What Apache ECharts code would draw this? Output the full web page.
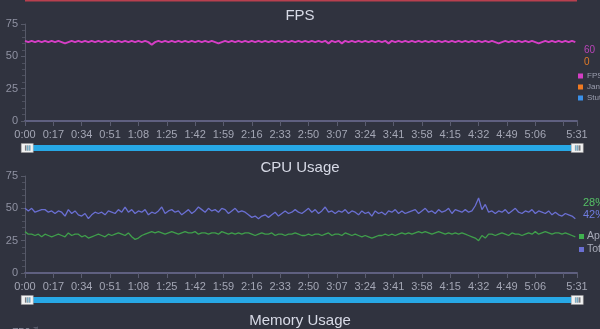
<!DOCTYPE html>
<html>
<head>
<meta charset="utf-8">
<script src="https://cdn.jsdelivr.net/npm/echarts@6/dist/echarts.min.js"></script>
<style>
html,body{margin:0;padding:0;background:#30333f;}
#chart{width:600px;height:329px;}
</style>
</head>
<body>
<div id="chart"></div>
<script>
// ---- data (sampled every 2 seconds, 0:00 .. 5:30) ----
const SAMPLE_STEP = 2;
const fpsValues = [
  62,61,62,61,62,61,62,61,62,61,
  62,61,60,61,62,61,62,61,62,61,
  62,61,62,61,62,61,62,61,62,61,
  62,61,62,61,62,61,62,61,59,61,
  62,61,62,61,62,61,62,61,62,61,
  62,61,62,61,62,61,62,61,60,61,
  62,61,62,61,62,61,62,61,62,61,
  62,61,62,61,62,61,62,61,62,61,
  62,61,62,61,62,61,62,61,62,61,
  62,60,62,61,62,60,62,61,62,61,
  62,61,62,61,62,61,62,61,62,60,
  62,61,62,61,62,61,62,61,62,61,
  62,61,62,61,62,61,62,61,62,61,
  62,61,62,61,62,61,62,61,62,61,
  62,61,60,61,62,61,62,61,62,61,
  62,61,62,61,60,61,62,61,62,61,
  62,61,62,61,62,61
];
const jankValues = [];
const stutterValues = [];
const cpuTotalValues = [
  50,48,50,47,48,49,49,47,48,46,
  48,47,44,49,46,48,45,44,46,42,
  45,47,46,47,45,48,47,46,49,47,
  51,47,49,46,48,47,49,45,47,46,
  48,51,46,48,49,47,48,45,47,49,
  46,48,51,49,47,50,48,49,47,50,
  49,46,48,50,47,48,47,45,43,44,
  42,44,45,43,45,47,44,46,48,46,
  47,49,47,46,48,50,47,49,46,48,
  51,47,48,46,48,47,49,46,48,47,
  45,48,46,47,44,48,46,47,45,48,
  47,49,46,48,46,47,48,49,46,48,
  50,47,48,46,49,47,48,50,46,49,
  48,47,49,47,48,52,58,49,53,47,
  48,46,48,47,49,46,48,50,47,46,
  48,47,49,46,48,47,46,48,45,47,
  45,44,46,45,44,42
];
const cpuAppValues = [
  32,30,30,29,30,28,30,29,28,29,
  30,29,28,31,29,30,30,28,29,27,
  28,29,30,29,28,30,29,30,31,30,
  29,31,28,26,27,29,30,31,32,31,
  32,31,30,31,32,31,30,31,32,31,
  31,32,30,31,31,30,31,31,30,32,
  31,30,31,30,31,30,31,31,30,29,
  30,31,30,30,31,29,30,30,29,30,
  30,31,30,29,29,30,29,30,30,29,
  30,31,29,30,30,29,31,30,29,30,
  29,28,29,28,27,28,29,29,30,29,
  30,29,30,31,30,31,30,31,32,31,
  32,31,30,31,32,31,30,31,30,31,
  30,31,30,29,28,27,25,29,27,30,
  30,29,30,31,30,29,31,30,30,29,
  30,31,30,32,30,31,32,31,30,31,
  31,30,31,30,29,28
];
const fpsCurrent = ['60', '0'];
const cpuCurrent = ['28%', '42%'];
const chartTitles = ['FPS', 'CPU Usage', 'Memory Usage'];
const fpsLegend = ['FPS', 'Jank', 'Stutter'];
const cpuLegend = ['App', 'Total'];
const xMin = 0, xMax = 331, xInterval = 17;
const yMax = 75, yInterval = 25;
const memYMax = 1000, memYInterval = 250;

// ---- helpers ----
const toPairs = arr => arr.map((v, i) => [i * SAMPLE_STEP, v]);
const fmtTime = v => {
  if (v === 323) return '';
  const m = Math.floor(v / 60), s = Math.round(v % 60);
  return m + ':' + String(s).padStart(2, '0');
};
const FONT = 'Liberation Sans, Arial, sans-serif';
const labelGrey = '#a3a6b4';
const axisLineX = '#5f6080';

function xAxisDef(gridIndex) {
  return {
    type: 'value', gridIndex, min: xMin, max: xMax, interval: xInterval,
    axisLine: { show: true, lineStyle: { color: axisLineX, width: 2 } },
    axisTick: { show: true, length: 5, lineStyle: { color: '#5a5c70' } },
    axisLabel: { color: labelGrey, fontSize: 11, fontFamily: FONT, formatter: fmtTime, margin: 8, showMaxLabel: true, showMinLabel: true },
    splitLine: { show: false }
  };
}
function yAxisDef(gridIndex, max, interval) {
  return {
    type: 'value', gridIndex, min: 0, max, interval,
    axisLine: { show: true, lineStyle: { color: '#565968' } },
    axisTick: { show: true, length: 4, lineStyle: { color: '#565968' } },
    minorTick: { show: true, splitNumber: 5, length: 3, lineStyle: { color: '#4d505e' } },
    axisLabel: { color: '#8f92a2', fontSize: 11, fontFamily: FONT, margin: 7 },
    splitLine: { show: false }
  };
}
function slider(xAxisIndex, top) {
  return {
    type: 'slider', xAxisIndex, start: 0, end: 100,
    left: 25, right: 23, top, height: 6,
    backgroundColor: '#1f2129', borderColor: 'transparent',
    fillerColor: '#27a8e6',
    dataBackground: { lineStyle: { opacity: 0 }, areaStyle: { opacity: 0 } },
    selectedDataBackground: { lineStyle: { opacity: 0 }, areaStyle: { opacity: 0 } },
    handleIcon: 'path://M0,0H12V9H0Z M4,2V7H5V2Z M6,2V7H7V2Z M8,2V7H9V2Z',
    handleSize: '200%',
    handleStyle: { color: '#f2f2f2', borderColor: '#9a9a9a', borderWidth: 0.5 },
    moveHandleSize: 0, showDetail: false, showDataShadow: false, brushSelect: false,
    emphasis: { handleStyle: { color: '#f2f2f2', borderColor: '#9a9a9a' } }
  };
}

const chart = echarts.init(document.getElementById('chart'), null, { renderer: 'canvas' });
chart.setOption({
  backgroundColor: '#30333f',
  animation: false,
  textStyle: { fontFamily: FONT },
  title: [
    { text: chartTitles[0], left: 'center', top: 3, textStyle: { color: '#d7dae6', fontSize: 15, fontWeight: 'normal', fontFamily: FONT } },
    { text: chartTitles[1], left: 'center', top: 155, textStyle: { color: '#d7dae6', fontSize: 15, fontWeight: 'normal', fontFamily: FONT } },
    { text: chartTitles[2], left: 'center', top: 308, textStyle: { color: '#d7dae6', fontSize: 15, fontWeight: 'normal', fontFamily: FONT } }
  ],
  grid: [
    { left: 25, right: 23, top: 24, height: 97 },
    { left: 25, right: 23, top: 176, height: 97 },
    { left: 25, right: 23, top: 327, height: 100 }
  ],
  xAxis: [xAxisDef(0), xAxisDef(1), Object.assign(xAxisDef(2), { show: false })],
  yAxis: [yAxisDef(0, yMax, yInterval), yAxisDef(1, yMax, yInterval), yAxisDef(2, memYMax, memYInterval)],
  dataZoom: [slider(0, 145), slider(1, 297)],
  legend: [
    { data: fpsLegend, orient: 'vertical', left: 578, top: 72, padding: 0, itemWidth: 5, itemHeight: 5, itemGap: 3, icon: 'rect',
      textStyle: { color: '#9c9fb0', fontSize: 8, padding: [0, 0, 0, -1] } },
    { data: cpuLegend, orient: 'vertical', left: 579, top: 231, padding: 0, itemWidth: 5, itemHeight: 5, itemGap: 2, icon: 'rect',
      textStyle: { color: '#a8abb8', fontSize: 10.5, padding: [0, 0, 0, -2] } }
  ],
  graphic: [
    { type: 'rect', left: 25, top: 0, shape: { width: 552, height: 1.5 }, style: { fill: '#b8404f' }, silent: true },
    { type: 'text', left: 584, top: 45, style: { text: fpsCurrent[0], fill: '#b844b8', fontSize: 10, fontFamily: FONT } },
    { type: 'text', left: 584, top: 57, style: { text: fpsCurrent[1], fill: '#e07a28', fontSize: 10, fontFamily: FONT } },
    { type: 'text', left: 583, top: 197, style: { text: cpuCurrent[0], fill: '#55c065', fontSize: 11, fontFamily: FONT } },
    { type: 'text', left: 583, top: 209, style: { text: cpuCurrent[1], fill: '#6f7de0', fontSize: 11, fontFamily: FONT } }
  ],
  series: [
    { name: fpsLegend[0], type: 'line', xAxisIndex: 0, yAxisIndex: 0, data: toPairs(fpsValues), showSymbol: false,
      lineStyle: { color: '#d43ec4', width: 2 }, itemStyle: { color: '#d43ec4' } },
    { name: fpsLegend[1], type: 'line', xAxisIndex: 0, yAxisIndex: 0, data: toPairs(jankValues), showSymbol: false,
      lineStyle: { color: '#f07a22' }, itemStyle: { color: '#f07a22' } },
    { name: fpsLegend[2], type: 'line', xAxisIndex: 0, yAxisIndex: 0, data: toPairs(stutterValues), showSymbol: false,
      lineStyle: { color: '#3a90e8' }, itemStyle: { color: '#3a90e8' } },
    { name: cpuLegend[0], type: 'line', xAxisIndex: 1, yAxisIndex: 1, data: toPairs(cpuAppValues), showSymbol: false,
      lineStyle: { color: '#3f9f4b', width: 1.3 }, itemStyle: { color: '#3fb14f' } },
    { name: cpuLegend[1], type: 'line', xAxisIndex: 1, yAxisIndex: 1, data: toPairs(cpuTotalValues), showSymbol: false,
      lineStyle: { color: '#6a6fd2', width: 1.3 }, itemStyle: { color: '#6a6fd2' } }
  ]
});
</script>
</body>
</html>
